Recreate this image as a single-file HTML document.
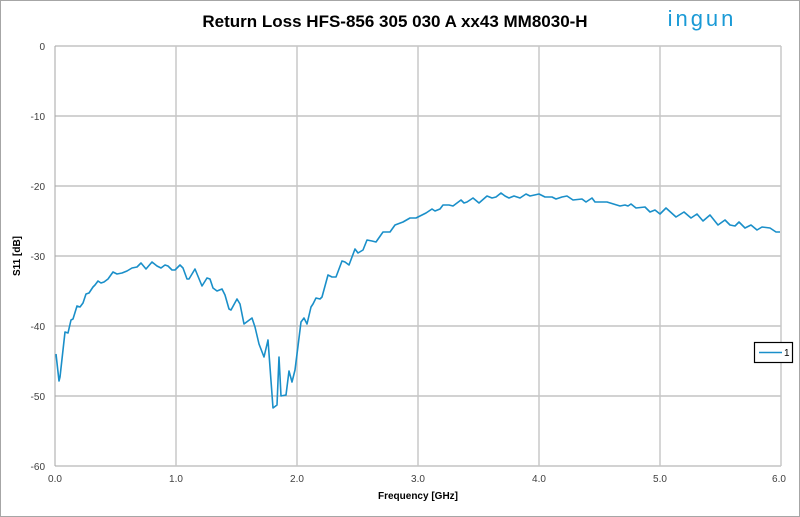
<!DOCTYPE html>
<html><head><meta charset="utf-8"><style>
html,body{margin:0;padding:0;background:#fff;}
svg{display:block;font-family:"Liberation Sans",sans-serif;}
</style></head><body>
<svg width="800" height="517" xmlns="http://www.w3.org/2000/svg">
<rect x="0.5" y="0.5" width="799" height="516" fill="#fff" stroke="#a6a6a6"/>
<text x="395" y="27" text-anchor="middle" font-size="17" font-weight="bold" fill="#000">Return Loss HFS-856 305 030 A xx43 MM8030-H</text>
<text x="702" y="26" text-anchor="middle" font-size="22" fill="#1a9ad6" letter-spacing="3">ingun</text>
<g stroke="#a6a6a6" stroke-width="1">
<line x1="55" y1="46" x2="781" y2="46"/>
<line x1="55" y1="116" x2="781" y2="116"/>
<line x1="55" y1="186" x2="781" y2="186"/>
<line x1="55" y1="256" x2="781" y2="256"/>
<line x1="55" y1="326" x2="781" y2="326"/>
<line x1="55" y1="396" x2="781" y2="396"/>
<line x1="55" y1="466" x2="781" y2="466"/>
</g>
<g stroke="#c8c8c8" stroke-width="1.5">
<line x1="176" y1="46" x2="176" y2="466"/>
<line x1="297" y1="46" x2="297" y2="466"/>
<line x1="418" y1="46" x2="418" y2="466"/>
<line x1="539" y1="46" x2="539" y2="466"/>
<line x1="660" y1="46" x2="660" y2="466"/>
<line x1="781" y1="46" x2="781" y2="466"/>
</g>
<line x1="55" y1="46" x2="55" y2="466" stroke="#a6a6a6"/>
<g font-size="10" fill="#404040" text-anchor="end">
<text x="45" y="50">0</text><text x="45" y="120">-10</text><text x="45" y="190">-20</text>
<text x="45" y="260">-30</text><text x="45" y="330">-40</text><text x="45" y="400">-50</text><text x="45" y="470">-60</text>
</g>
<g font-size="10" fill="#404040" text-anchor="middle">
<text x="55" y="482">0.0</text><text x="176" y="482">1.0</text><text x="297" y="482">2.0</text>
<text x="418" y="482">3.0</text><text x="539" y="482">4.0</text><text x="660" y="482">5.0</text><text x="779" y="482">6.0</text>
</g>
<text x="418" y="499" text-anchor="middle" font-size="10" font-weight="bold" fill="#000">Frequency [GHz]</text>
<text transform="translate(20,256) rotate(-90)" text-anchor="middle" font-size="10" font-weight="bold" fill="#000">S11 [dB]</text>
<polyline fill="none" stroke="#1a8fc9" stroke-width="1.6" stroke-linejoin="round" points="
56,354 59,381 60,377 65,332 68,333 71,320 73,319 77,306 80,307 83,303 86,294 89,293 93,287 95,285 98,281 101,283 104,282 108,279 113,272 117,274 122,273 127,271 132,268 137,267 141,263 146,269 152,262 157,266 161,268 165,265 168,266 172,270 175,270 180,265 183,268 187,279 189,279 195,269 202,286 207,278 210,279 213,288 217,291 222,289 225,295 229,309 231,310 237,299 240,304 244,324 252,318 255,327 259,344 264,357 268,340 273,408 277,405 279,357 281,396 286,395 289,371 292,382 295,370 301,322 304,318 307,324 311,307 313,304 316,298 320,299 322,297 328,275 332,277 336,277 342,261 345,262 349,265 355,249 358,253 363,250 367,240 372,241 376,242 383,232 390,232 395,225 403,222 410,218 416,218 420,216 426,213 432,209 435,211 440,209 443,205 449,205 453,206 461,200 464,203 467,202 473,198 479,203 487,196 492,198 496,197 501,193 505,196 509,198 514,196 520,198 526,194 530,196 539,194 545,197 552,197 556,199 562,197 567,196 573,200 582,199 586,202 592,198 595,202 607,202 620,206 625,205 628,206 631,204 636,208 645,207 650,212 655,210 660,214 666,208 676,217 684,212 691,218 697,214 703,221 710,215 718,225 725,220 730,225 735,226 739,222 745,228 751,225 757,230 762,227 770,228 776,232 780,232"/>
<rect x="754.5" y="342.5" width="38" height="20" fill="#fff" stroke="#000" stroke-width="1.2"/>
<line x1="759" y1="352.5" x2="782" y2="352.5" stroke="#1a8fc9" stroke-width="1.6"/>
<text x="784" y="356" font-size="10" fill="#000">1</text>
</svg>
</body></html>
